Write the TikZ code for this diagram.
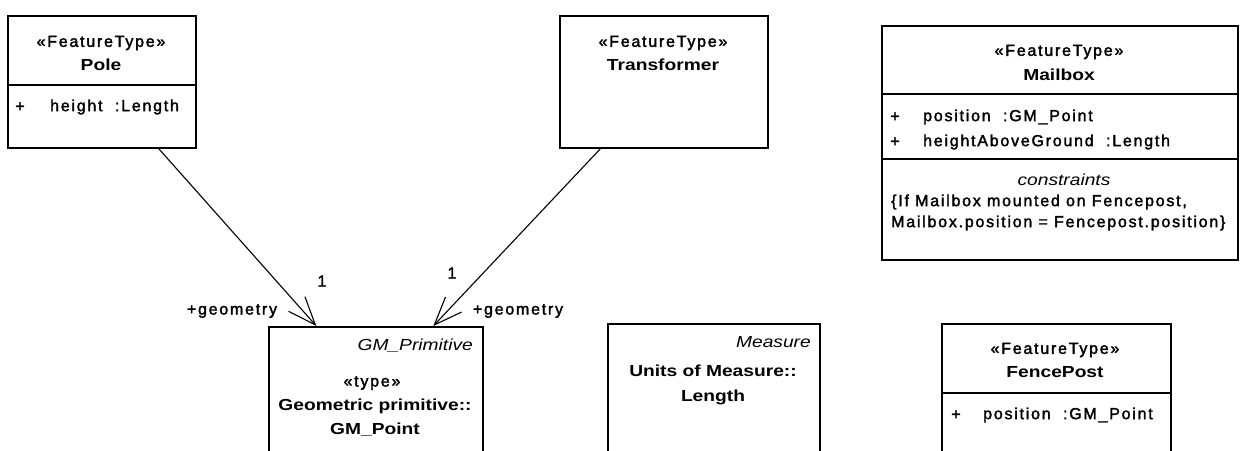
\documentclass[tikz,border=0pt]{standalone}
\usepackage{fontspec}
\setmainfont{Liberation Sans}
\newfontfamily\umlplain[LetterSpace=11, FakeBold=2]{Liberation Sans}
\newfontfamily\umlwide[FakeStretch=1.2]{Liberation Sans}
\usetikzlibrary{arrows.meta,calc}

\begin{document}
\begin{tikzpicture}[x=1pt, y=-1pt,
    classbox/.style={draw, line width=1.8pt, anchor=north west, inner sep=0pt},
    divider/.style={line width=1.8pt},
    plain/.style={font=\umlplain\fontsize{16}{19}\selectfont, inner sep=0pt},
    attr/.style={plain, anchor=west},
    cname/.style={font=\umlwide\bfseries\fontsize{16}{19}\selectfont, inner sep=0pt},
    tagged/.style={font=\umlwide\itshape\fontsize{16}{19}\selectfont, inner sep=0pt, anchor=east},
    assoc/.style={line width=1.1pt, -{Straight Barb[length=28pt, width=22pt]}}]
    \useasboundingbox (0,0) rectangle (1240,450);

    % class boxes
    \node[classbox, minimum width=188pt, minimum height=132pt] (pole) at (7,15) {};
    \node[classbox, minimum width=208pt, minimum height=132pt] (transformer) at (559,15) {};
    \node[classbox, minimum width=356pt, minimum height=234pt] (mailbox) at (881,25) {};
    \node[classbox, minimum width=214pt, minimum height=140pt] (point) at (268,326) {};
    \node[classbox, minimum width=212pt, minimum height=140pt] (length) at (607,323) {};
    \node[classbox, minimum width=229pt, minimum height=140pt] (fencepost) at (941,323) {};

    % Pole
    \node[plain] (poleStereo) at (101,43) {«FeatureType»};
    \node[cname] (poleName) at (101,65) {Pole};
    \draw[divider] (pole.west |- 0,85) -- (pole.east |- 0,85);
    \node[plain] (polePlus) at (20,107) {+};
    \node[attr] (poleHeight) at (50,107) {height\ \ :Length};

    % Transformer
    \node[plain] (trStereo) at (663,43) {«FeatureType»};
    \node[cname] (trName) at (663,65) {Transformer};

    % Mailbox
    \node[plain] (mbStereo) at (1059,52) {«FeatureType»};
    \node[cname] (mbName) at (1059,75) {Mailbox};
    \draw[divider] (mailbox.west |- 0,94) -- (mailbox.east |- 0,94);
    \node[plain] (mbPlusA) at (895,117) {+};
    \node[attr] (mbPosition) at (923,117) {position\ \ :GM\_Point};
    \node[plain] (mbPlusB) at (895,142) {+};
    \node[attr] (mbHeight) at (923,142) {heightAboveGround\ \ :Length};
    \draw[divider] (mailbox.west |- 0,159) -- (mailbox.east |- 0,159);
    \node[tagged, anchor=center] (mbConstr) at (1064,180) {constraints};
    \node[attr] (mbRuleA) at (891,202) {\{If Mailbox mounted on Fencepost,};
    \node[attr] (mbRuleB) at (891,223) {Mailbox.position = Fencepost.position\}};

    % GM_Point
    \node[tagged] (ptTag) at (473,346) {GM\_Primitive};
    \node[plain] (ptStereo) at (372,383) {«type»};
    \node[cname] (ptPkg) at (375,406) {Geometric primitive::};
    \node[cname] (ptName) at (375,430) {GM\_Point};

    % Length
    \node[tagged] (lnTag) at (811,342) {Measure};
    \node[cname] (lnPkg) at (713,371) {Units of Measure::};
    \node[cname] (lnName) at (713,397) {Length};

    % FencePost
    \node[plain] (fpStereo) at (1055,350) {«FeatureType»};
    \node[cname] (fpName) at (1055,372) {FencePost};
    \draw[divider] (fencepost.west |- 0,393) -- (fencepost.east |- 0,393);
    \node[plain] (fpPlus) at (956,415) {+};
    \node[attr] (fpPosition) at (983,415) {position\ \ :GM\_Point};

    % associations
    \draw[assoc] ($(pole.south west)!0.8!(pole.south east)$) -- ($(point.north west)!0.224!(point.north east)$);
    \draw[assoc] ($(transformer.south west)!0.197!(transformer.south east)$) -- ($(point.north west)!0.766!(point.north east)$);
    \node[plain] (poleMult) at (322,281) {1};
    \node[plain] (poleRole) at (232,311) {+geometry};
    \node[plain] (trMult) at (452,273) {1};
    \node[plain] (trRole) at (518,311) {+geometry};
\end{tikzpicture}
\end{document}
